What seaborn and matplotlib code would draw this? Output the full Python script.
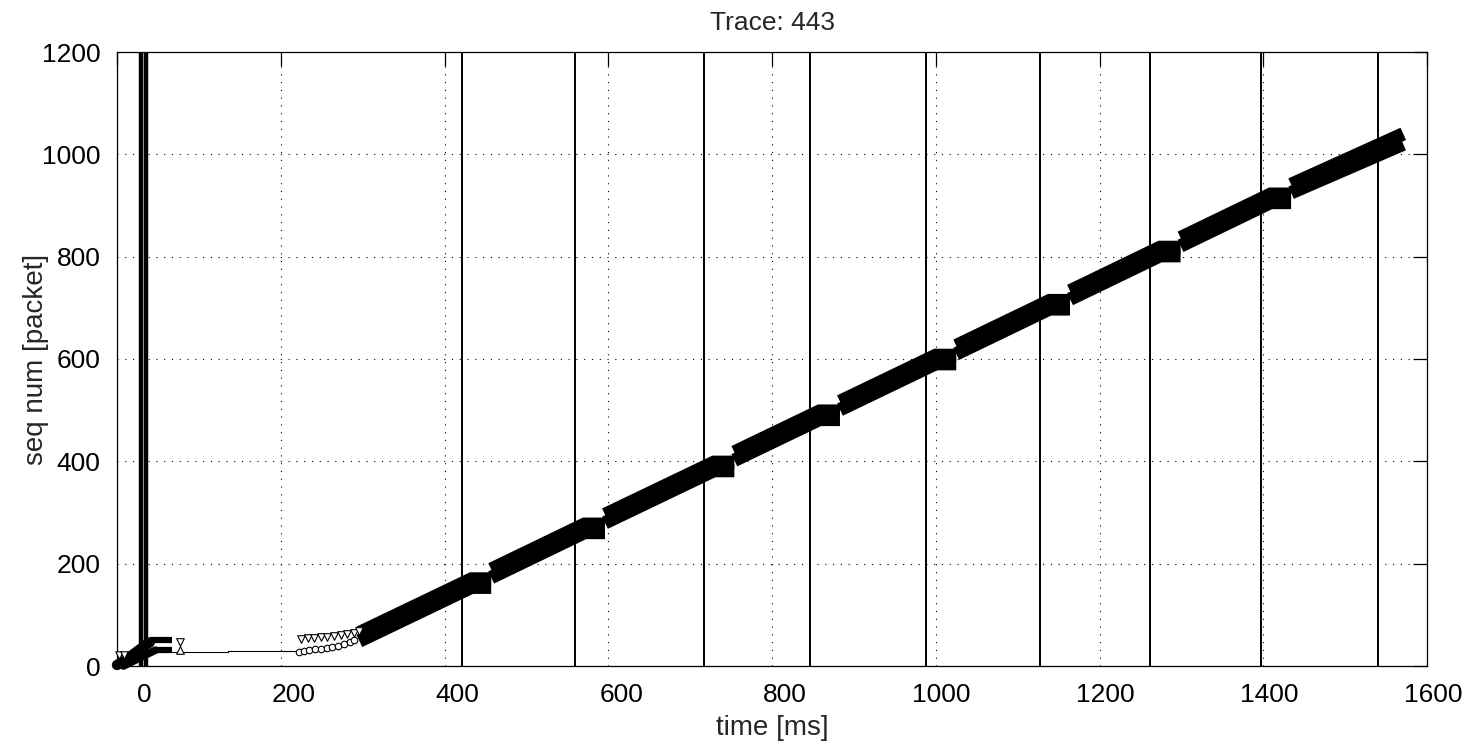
import matplotlib
matplotlib.use("Agg")
import matplotlib.pyplot as plt
import seaborn as sns
import pandas as pd
from matplotlib.transforms import ScaledTranslation

# ---------------- data (time in ms, seq in packets) ----------------
x_ticks = [0, 200, 400, 600, 800, 1000, 1200, 1400, 1600]
y_ticks = [0, 200, 400, 600, 800, 1000, 1200]

# vertical event lines
burst_events = [29, 35]
loss_events = [421, 559, 717, 846, 988, 1127, 1262, 1397, 1540]

# initial burst (dense markers)
burst_t = [0, 5, 10, 15, 20, 25, 30, 35, 40]
burst_seq = [2, 6, 11, 17, 23, 29, 35, 41, 46]
burst_ack_t = [8, 18, 28, 38, 47]
burst_ack_seq = [0, 8, 16, 24, 31]
early_sent_t = [3, 8]
early_sent_seq = [21, 22]
flag_sent_t = [40, 67]
flag_sent_seq = [51, 51]
flag_ack_t = [46, 67]
flag_ack_seq = [31, 31]
probe_t = [77]
probe_sent_seq = [47]
probe_ack_seq = [31]

# thin ack line during the idle period
ackline_t = [67, 135, 135, 222]
ackline_seq = [28, 28, 30, 30]

# slow start rows
ss_sent_t = [225, 233, 241, 249, 257, 265, 273, 281, 289, 296]
ss_sent_seq = [53, 54, 55, 56, 57, 58, 60, 62, 65, 68]
ss_ack_t = [222, 228, 235, 242, 249, 256, 263, 270, 277, 284, 290]
ss_ack_seq = [28, 30, 31, 33, 34, 36, 37, 40, 43, 47, 51]

# steady transfer rounds (dense band)
round_start = [296, 457, 596, 754, 883, 1025, 1164, 1299, 1434]
round_end = [433, 571, 729, 858, 1000, 1139, 1274, 1409, 1571]
sent_start = [65, 189, 296, 418, 517, 626, 733, 837, 941]
sent_end = [170, 277, 398, 498, 607, 714, 818, 922, 1040]
ack_start = [49, 173, 280, 402, 501, 610, 717, 821, 925]
ack_end = [154, 261, 382, 482, 591, 698, 802, 906, 1020]

title = "Trace: 443"
xlabel = "time [ms]"
ylabel = "seq num [packet]"

# ---------------- build table: each round climbs, then idles until the next round ----------------
rows = []
n = len(round_start)
for name, s0, s1 in (("sent", sent_start, sent_end), ("ack", ack_start, ack_end)):
    for i in range(n):
        rows.append((name, i, 0, round_start[i], s0[i]))
        rows.append((name, i, 1, round_end[i], s1[i]))
        if i < n - 1:
            rows.append((name, i, 2, round_start[i + 1], s1[i]))
band = pd.DataFrame(rows, columns=["series", "unit", "order", "t", "seq"])

# ---------------- figure ----------------
sns.set_style("white")
plt.rcParams["font.family"] = ["Liberation Sans", "DejaVu Sans"]

W, H = 1477, 747
fig = plt.figure(figsize=(W / 100, H / 100), dpi=100)
ax = fig.add_axes([117 / W, 81 / H, 1310 / W, 614 / H])

ax.set_xlim(x_ticks[0], x_ticks[-1])
ax.set_ylim(y_ticks[0], y_ticks[-1])
ax.set_xticks(x_ticks)
ax.set_yticks(y_ticks)
ax.grid(True, color="black", linestyle=(0, (1, 6)), linewidth=0.8)
ax.set_axisbelow(True)

for t in burst_events:
    ax.axvline(t, color="black", lw=3.2, zorder=2)
for t in loss_events:
    ax.axvline(t, color="black", lw=1.4, zorder=2)

# dense band
for series in ("sent", "ack"):
    sns.lineplot(data=band[band.series == series], x="t", y="seq", units="unit",
                 estimator=None, sort=False, color="black", lw=9.7, ax=ax,
                 legend=False, solid_capstyle="butt", solid_joinstyle="miter",
                 zorder=3)

# initial burst
sns.lineplot(x=burst_t, y=burst_seq, color="black", lw=7.5, ax=ax,
             solid_capstyle="round", zorder=3, clip_on=False)
sns.lineplot(x=burst_ack_t, y=burst_ack_seq, color="black", lw=5.5, ax=ax,
             solid_capstyle="round", zorder=3, clip_on=False)
sns.lineplot(x=flag_sent_t, y=flag_sent_seq, color="black", lw=4.5, ax=ax,
             solid_capstyle="butt", zorder=3)
sns.lineplot(x=flag_ack_t, y=flag_ack_seq, color="black", lw=4.5, ax=ax,
             solid_capstyle="butt", zorder=3)
sns.lineplot(x=ackline_t, y=ackline_seq, color="black", lw=0.8, ax=ax,
             estimator=None, sort=False, zorder=3)

sns.scatterplot(x=early_sent_t, y=early_sent_seq, marker="v", s=28, color="white",
                edgecolor="black", linewidth=0.8, ax=ax, zorder=4, clip_on=False)
sns.scatterplot(x=probe_t, y=probe_sent_seq, marker="v", s=30, color="white",
                edgecolor="black", linewidth=0.8, ax=ax, zorder=4)
sns.scatterplot(x=probe_t, y=probe_ack_seq, marker="^", s=30, color="white",
                edgecolor="black", linewidth=0.8, ax=ax, zorder=4)

# slow start rows
sns.scatterplot(x=ss_sent_t, y=ss_sent_seq, marker="v", s=30, color="white",
                edgecolor="black", linewidth=0.8, ax=ax, zorder=4)
sns.scatterplot(x=ss_ack_t, y=ss_ack_seq, marker="o", s=22, color="white",
                edgecolor="black", linewidth=0.8, ax=ax, zorder=4)

# axes styling (MATLAB look)
for sp in ax.spines.values():
    sp.set_color("black")
    sp.set_linewidth(0.9)
    sp.set_visible(True)
ax.tick_params(direction="in", top=True, right=True, length=10, width=0.9,
               colors="black", labelsize=19)
ax.tick_params(axis="x", pad=12)
ax.tick_params(axis="y", pad=12)

ax.set_xlabel(xlabel, fontsize=20, labelpad=6)
ax.set_ylabel(ylabel, fontsize=20)
ax.yaxis.set_label_coords(-0.052, 0.5)
ax.set_title(title, fontsize=19, pad=16)

# x tick labels in the reference sit right-aligned, shifted right of the ticks
shift = ScaledTranslation(35 / 100, 0, fig.dpi_scale_trans)
for lab in ax.get_xticklabels():
    lab.set_horizontalalignment("right")
    lab.set_transform(lab.get_transform() + shift)

fig.savefig("out.png", dpi=100, facecolor="white")
